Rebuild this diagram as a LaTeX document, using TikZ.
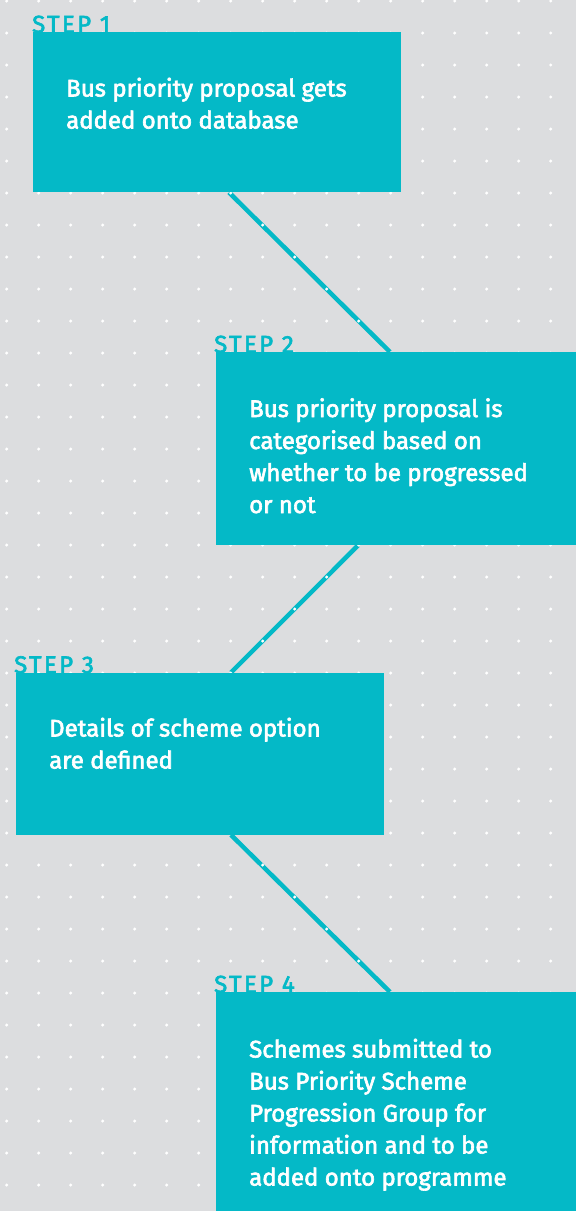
\documentclass[tikz,border=0pt]{standalone}
\usepackage{fontspec}
\setmainfont{Fira Sans}
\usetikzlibrary{calc}
\definecolor{bgc}{HTML}{DCDDDF}
\definecolor{teal}{HTML}{04B9C7}
\pgfdeclarelayer{bg}
\pgfsetlayers{bg,main}
\begin{document}
\begin{tikzpicture}[x=1pt,y=-1pt,
  stepbox/.style={fill=teal,draw=none,anchor=north west,inner sep=0pt},
  bodytext/.style={anchor=base west,align=left,inner sep=0pt,text=white,
    font=\fontsize{24}{32}\selectfont\addfontfeatures{FakeBold=2.6}},
  steplabel/.style={anchor=base west,inner sep=0pt,text=teal,
    font=\fontsize{24}{28}\selectfont\addfontfeatures{LetterSpace=10,FakeBold=2.6}},
  conn/.style={draw=teal,line width=4.5pt}]
\useasboundingbox (0,0) rectangle (576,1211);
% boxes
\node[stepbox,minimum width=368pt,minimum height=160pt] (b1) at (33,32) {};
\node[stepbox,minimum width=360pt,minimum height=193pt] (b2) at (216,352) {};
\node[stepbox,minimum width=368pt,minimum height=162pt] (b3) at (16,672.5) {};
\node[stepbox,minimum width=360pt,minimum height=219pt] (b4) at (216,992) {};
% connector coordinates
\coordinate (c1a) at ($(b1.south west)+(196,0)$);
\coordinate (c1b) at ($(b2.north west)+(174,0)$);
\coordinate (c2a) at ($(b2.south west)+(142,0)$);
\coordinate (c2b) at ($(b3.north west)+(215,0)$);
\coordinate (c3a) at ($(b3.south west)+(215,0)$);
\coordinate (c3b) at ($(b4.north west)+(174,0)$);
\begin{pgfonlayer}{bg}
\fill[bgc] (0,0) rectangle (576,1211);
\draw[conn] (c1a) -- (c1b);
\draw[conn] (c2a) -- (c2b);
\draw[conn] (c3a) -- (c3b);
\foreach \i in {0,...,17}
  \foreach \j in {0,...,37}
    \fill[white] (6.7+32*\i,1+32*\j) circle (1.7pt);
\end{pgfonlayer}
% texts (anchor at baseline of last line)
\node[bodytext] (t1) at ($(b1.north west)+(33,96.5)$) {Bus priority proposal gets\\added onto database};
\node[bodytext] (t2) at ($(b2.north west)+(33,161)$) {Bus priority proposal is\\categorised based on\\whether to be progressed\\or not};
\node[bodytext] (t3) at ($(b3.north west)+(33,96)$) {Details of scheme option\\are defined};
\node[bodytext] (t4) at ($(b4.north west)+(33,193.5)$) {Schemes submitted to\\Bus Priority Scheme\\Progression Group for\\information and to be\\added onto programme};
% step labels
\node[steplabel] (s1) at ($(b1.north west)+(-1,0.5)$) {STEP 1};
\node[steplabel] (s2) at ($(b2.north west)+(-2,0.5)$) {STEP 2};
\node[steplabel] (s3) at ($(b3.north west)+(-2,0.5)$) {STEP 3};
\node[steplabel] (s4) at ($(b4.north west)+(-2,0.5)$) {STEP 4};
\end{tikzpicture}
\end{document}
